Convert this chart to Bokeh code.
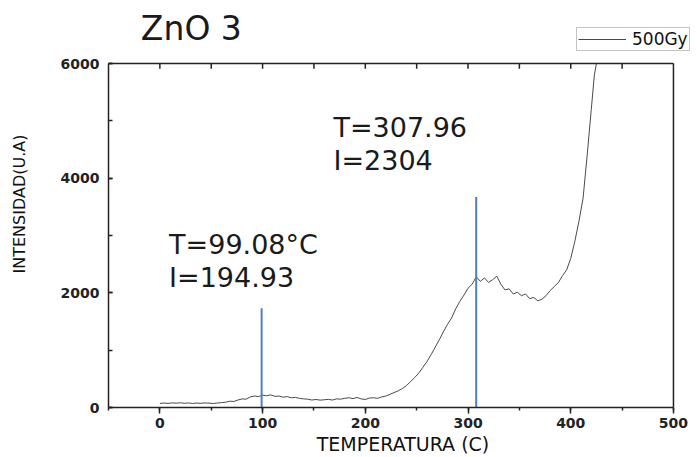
from bokeh.plotting import figure
from bokeh.models import (LinearAxis, SingleIntervalTicker, Label, Legend, LegendItem,
                          Range1d, ColumnDataSource, Title)
from bokeh.embed import file_html
from bokeh.resources import INLINE

# Thermoluminescence glow curve, ZnO sample 3, 500 Gy dose
temperature = [0, 4, 8, 12, 16, 20, 24, 28, 32, 36, 40, 44, 48, 52, 56, 60,
               64, 68, 72, 76, 80, 84, 88, 92, 96, 100, 104, 108, 112, 116, 120,
               124, 128, 132, 136, 140, 144, 148, 152, 156, 160, 164, 168, 172,
               176, 180, 184, 188, 192, 196, 200, 204, 208, 212, 216, 220, 224,
               228, 232, 236, 240, 244, 248, 252, 256, 260, 264, 268, 272, 276,
               280, 284, 288, 292, 296, 300, 304, 308, 312, 316, 320, 324, 328,
               332, 336, 340, 344, 348, 352, 356, 360, 364, 368, 372, 376, 380,
               384, 388, 392, 396, 400, 404, 408, 412, 416, 420, 423, 425]
intensity = [70, 78, 72, 80, 76, 82, 74, 79, 71, 77, 73, 80, 75, 70, 78, 85,
             92, 110, 105, 130, 150, 145, 185, 200, 190, 215, 205, 220, 195, 200, 180,
             190, 170, 175, 160, 150, 145, 130, 140, 128, 135, 142, 130, 150,
             145, 160, 170, 155, 175, 150, 140, 165, 170, 160, 185, 200, 230,
             260, 290, 330, 380, 450, 520, 600, 700, 800, 920, 1050, 1180, 1320,
             1450, 1560, 1720, 1850, 1960, 2080, 2150, 2280, 2200, 2260, 2180, 2230, 2290,
             2150, 2050, 2070, 1980, 2010, 1950, 1980, 1900, 1920, 1860, 1890, 1950, 2040,
             2110, 2180, 2300, 2400, 2600, 2900, 3250, 3650, 4400, 5200, 5800, 6000]

# Peak markers: temperature, intensity read-out and marker height
peak_temp = [99.08, 307.96]
peak_int = ["194.93", "2304"]
peak_text_t = ["T=99.08°C", "T=307.96"]
marker_top = [1730, 3670]

# Axis extents and tick spacing
x_min, x_max = -50, 500
y_min, y_max = 0, 6000
x_tick_step = 100
y_tick_step = 2000
top_ticks = [0, 50, 100, 150, 200, 250, 300, 350, 400, 450]

FONT = "DejaVu Sans"
AX = "#222222"
TXT = "#1a1a1a"

# The plotting area reaches the top and right edges of the canvas, so the
# title and legend can sit in it; the boxed axes are limited to the data extents.
p = figure(width=697, height=457, output_backend="svg", toolbar_location=None,
           x_range=Range1d(x_min, 523.4), y_range=Range1d(y_min, 7099),
           min_border_left=108, min_border_right=0, min_border_top=0,
           min_border_bottom=50, x_axis_location=None, y_axis_location=None)
p.grid.visible = False
p.outline_line_color = None
p.background_fill_color = "white"
p.border_fill_color = "white"

curve = p.line(temperature, intensity, line_color="#4a4a4a", line_width=1)

src = ColumnDataSource(dict(x=peak_temp, y0=[0, 0], y1=marker_top))
p.segment(x0="x", y0="y0", x1="x", y1="y1", source=src,
          line_color="#4f7fc0", line_width=2)

# top and right edges of the box, with inward ticks along the top
p.segment(x0=[x_min, x_max], y0=[y_max, y_min], x1=[x_max, x_max], y1=[y_max, y_max],
          line_color=AX, line_width=1.5)
p.segment(x0=top_ticks, y0=[y_max] * len(top_ticks), x1=top_ticks,
          y1=[y_max - 90] * len(top_ticks), line_color=AX, line_width=1.5)

# bottom axis
xb = LinearAxis(ticker=SingleIntervalTicker(interval=x_tick_step, num_minor_ticks=2),
                bounds=(x_min, x_max))
xb.axis_line_width = 1.5
xb.axis_line_color = AX
xb.major_tick_in = 0
xb.major_tick_out = 6
xb.minor_tick_in = 0
xb.minor_tick_out = 3
xb.major_tick_line_width = 1.5
xb.minor_tick_line_width = 1.5
xb.major_tick_line_color = AX
xb.minor_tick_line_color = AX
xb.major_label_text_font = FONT
xb.major_label_text_font_style = "bold"
xb.major_label_text_font_size = "14px"
xb.major_label_text_color = AX
xb.major_label_standoff = 4
p.add_layout(xb, "below")

# x axis title, centred under the boxed data area
p.add_layout(Title(text="TEMPERATURA (C)", align="center", offset=-12, standoff=0,
                   text_font=FONT, text_font_size="19px", text_font_style="normal",
                   text_color="#111111"), "below")

# left axis
yl = LinearAxis(ticker=SingleIntervalTicker(interval=y_tick_step, num_minor_ticks=2),
                bounds=(y_min, y_max), axis_label="INTENSIDAD(U.A)")
yl.axis_line_width = 1.5
yl.axis_line_color = AX
yl.major_tick_in = 4
yl.major_tick_out = 0
yl.minor_tick_in = 4
yl.minor_tick_out = 0
yl.major_tick_line_width = 1.5
yl.minor_tick_line_width = 1.5
yl.major_tick_line_color = AX
yl.minor_tick_line_color = AX
yl.major_label_text_font = FONT
yl.major_label_text_font_style = "bold"
yl.major_label_text_font_size = "14px"
yl.major_label_text_color = AX
yl.major_label_standoff = 9
yl.axis_label_text_font = FONT
yl.axis_label_text_font_style = "normal"
yl.axis_label_text_font_size = "16px"
yl.axis_label_text_color = "#111111"
yl.axis_label_standoff = 29
p.add_layout(yl, "left")

# chart title
p.add_layout(Label(x=-18.5, y=6610, text="ZnO 3", text_font=FONT,
                   text_font_size="33px", text_color=TXT,
                   text_baseline="alphabetic"))

# peak annotations
p.add_layout(Label(x=9, y=2840, text=peak_text_t[0], text_font=FONT,
                   text_font_size="27px", text_color=TXT, text_baseline="alphabetic"))
p.add_layout(Label(x=9, y=2265, text="I=" + peak_int[0], text_font=FONT,
                   text_font_size="27px", text_color=TXT, text_baseline="alphabetic"))
p.add_layout(Label(x=169, y=4880, text=peak_text_t[1], text_font=FONT,
                   text_font_size="27px", text_color=TXT, text_baseline="alphabetic"))
p.add_layout(Label(x=169, y=4305, text="I=" + peak_int[1], text_font=FONT,
                   text_font_size="27px", text_color=TXT, text_baseline="alphabetic"))

legend = Legend(items=[LegendItem(label="500Gy", renderers=[curve])],
                location=(468, 356))
legend.padding = 1
legend.margin = 0
legend.spacing = 0
legend.glyph_width = 48
legend.glyph_height = 14
legend.label_height = 14
legend.label_standoff = 6
legend.label_text_font = FONT
legend.label_text_font_size = "17px"
legend.label_text_color = "#111111"
legend.border_line_color = "#888888"
legend.border_line_width = 1
legend.background_fill_alpha = 1
p.add_layout(legend, "center")

open("out.html", "w").write(file_html(p, INLINE))
